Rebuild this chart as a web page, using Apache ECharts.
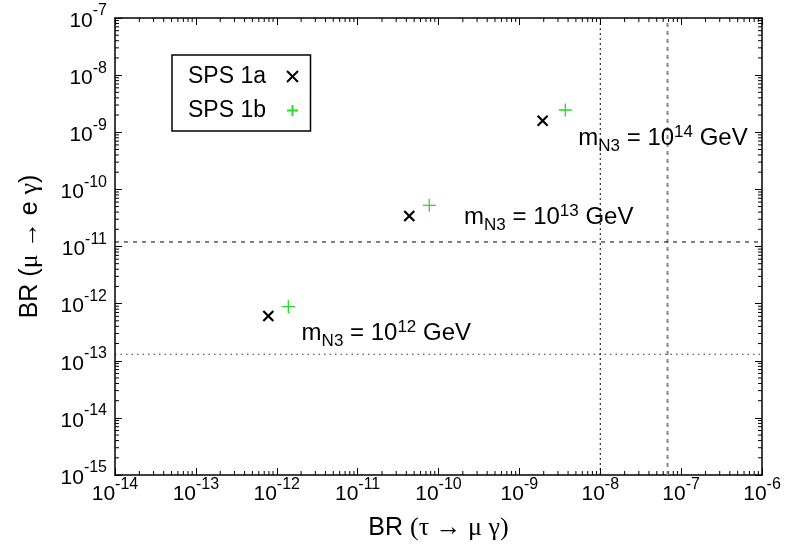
<!DOCTYPE html>
<html><head><meta charset="utf-8">
<script src="https://cdn.jsdelivr.net/npm/echarts@6/dist/echarts.min.js"></script>
<style>html,body{margin:0;padding:0;background:#fff}#c{width:787px;height:547px}</style>
</head><body><div id="c"></div>
<script>
// ---- data ----
const seriesNames = ['SPS 1a', 'SPS 1b'];
const spsA_x = [7.87e-13, 4.35e-11, 1.94e-9];
const spsA_y = [6.07e-13, 3.42e-11, 1.59e-9];
const spsB_x = [1.39e-12, 7.69e-11, 3.70e-9];
const spsB_y = [8.83e-13, 5.26e-11, 2.45e-9];
const massExponents = ['12', '13', '14'];
const annotX = [2.03e-12, 2.07e-10, 5.36e-9];
const annotY = [3.02e-13, 3.24e-11, 7.68e-10];
const xLimitLines = [1e-8, 6.8e-8];
const yLimitLines = [1.2e-11, 1.3e-13];
const xRange = [1e-14, 1e-6];
const yRange = [1e-15, 1e-7];
const xTitle = '{a|BR }{b|(τ → μ γ)}';
const yTitle = '{a|BR (}{b|μ → }{a|e }{b|γ}{a|)}';

// minor tick values (2..9 x 10^n)
const xMinorTicks = [];
for (let e = -14; e < -6; e++) for (let k = 2; k <= 9; k++) xMinorTicks.push(k * Math.pow(10, e));
const yMinorTicks = [];
for (let e = -15; e < -7; e++) for (let k = 2; k <= 9; k++) yMinorTicks.push(k * Math.pow(10, e));

const SANS = 'Liberation Sans';
const SERIF = 'Liberation Serif';

function tickFmt(v) {
  const e = Math.round(Math.log10(v));
  return '{b|10}{s|' + e + '}';
}
const tickRich = {
  b: { fontFamily: SANS, fontSize: 21, lineHeight: 23, padding: [8, 0, 2, 0], color: '#000' },
  s: { fontFamily: SANS, fontSize: 16, lineHeight: 17, padding: [1, 0, 15, 0], color: '#000' }
};
const nameRich = {
  a: { fontFamily: SANS, fontSize: 25, color: '#000' },
  b: { fontFamily: SERIF, fontSize: 26, color: '#000' }
};

const chart = echarts.init(document.getElementById('c'), null, { renderer: 'canvas' });

const axisLine = { show: true, lineStyle: { color: '#000', width: 1.5 } };
const majorTick = { show: true, inside: true, length: 7, lineStyle: { color: '#000', width: 1 } };

// reference-line styles, one per limit line
const xLineStyles = [
  { stroke: '#000', lineWidth: 1, lineDash: [2, 3] },
  { stroke: '#888', lineWidth: 2, lineDash: [4, 4] }
];
const yLineStyles = [
  { stroke: '#000', lineWidth: 1, lineDash: [4, 5] },
  { stroke: '#333', lineWidth: 1, lineDash: [1.5, 4] }
];

const option = {
  animation: false,
  backgroundColor: '#fff',
  grid: { left: 115, right: 25, top: 18, bottom: 72 },
  legend: {
    orient: 'vertical', left: 172, top: 55, align: 'right',
    padding: [10, 10, 9, 16], itemGap: 11, itemWidth: 11, itemHeight: 11,
    borderColor: '#000', borderWidth: 1.5, borderRadius: 0,
    textStyle: { fontFamily: SANS, fontSize: 23, color: '#000', lineHeight: 22, padding: [0, 16, 0, 0] },
    data: seriesNames,
    selectedMode: false
  },
  xAxis: [
    {
      type: 'log', min: xRange[0], max: xRange[1], position: 'bottom',
      name: xTitle, nameLocation: 'middle', nameGap: 40,
      nameTextStyle: { rich: nameRich },
      axisLine: axisLine, axisTick: majorTick, splitLine: { show: false },
      axisLabel: { formatter: tickFmt, rich: tickRich, margin: 5, showMinLabel: true, showMaxLabel: true }
    },
    {
      type: 'log', min: xRange[0], max: xRange[1], position: 'top',
      axisLine: axisLine, axisTick: majorTick, splitLine: { show: false },
      axisLabel: { show: false }
    }
  ],
  yAxis: [
    {
      type: 'log', min: yRange[0], max: yRange[1], position: 'left',
      name: yTitle, nameLocation: 'middle', nameGap: 72,
      nameTextStyle: { rich: nameRich },
      axisLine: axisLine, axisTick: majorTick, splitLine: { show: false },
      axisLabel: { formatter: tickFmt, rich: tickRich, margin: 8, showMinLabel: true, showMaxLabel: true }
    },
    {
      type: 'log', min: yRange[0], max: yRange[1], position: 'right',
      axisLine: axisLine, axisTick: majorTick, splitLine: { show: false },
      axisLabel: { show: false }
    }
  ],
  series: [
    {
      name: 'minorX', type: 'custom', xAxisIndex: 0, yAxisIndex: 0, silent: true, clip: false,
      data: xMinorTicks.map(v => [v, yRange[0]]),
      renderItem: function (params, api) {
        const v = api.value(0);
        const pb = api.coord([v, yRange[0]]);
        const pt = api.coord([v, yRange[1]]);
        return { type: 'group', children: [
          { type: 'line', shape: { x1: pb[0], y1: pb[1], x2: pb[0], y2: pb[1] - 4 }, style: { stroke: '#000', lineWidth: 1 } },
          { type: 'line', shape: { x1: pt[0], y1: pt[1], x2: pt[0], y2: pt[1] + 4 }, style: { stroke: '#000', lineWidth: 1 } }
        ] };
      }
    },
    {
      name: 'minorY', type: 'custom', xAxisIndex: 0, yAxisIndex: 0, silent: true, clip: false,
      data: yMinorTicks.map(v => [xRange[0], v]),
      renderItem: function (params, api) {
        const v = api.value(1);
        const pl = api.coord([xRange[0], v]);
        const pr = api.coord([xRange[1], v]);
        return { type: 'group', children: [
          { type: 'line', shape: { x1: pl[0], y1: pl[1], x2: pl[0] + 4, y2: pl[1] }, style: { stroke: '#000', lineWidth: 1 } },
          { type: 'line', shape: { x1: pr[0], y1: pr[1], x2: pr[0] - 4, y2: pr[1] }, style: { stroke: '#000', lineWidth: 1 } }
        ] };
      }
    },
    {
      name: 'xLimits', type: 'custom', xAxisIndex: 0, yAxisIndex: 0, silent: true, clip: false,
      data: xLimitLines.map(v => [v, yRange[0]]),
      renderItem: function (params, api) {
        const v = api.value(0);
        const p0 = api.coord([v, yRange[0]]);
        const p1 = api.coord([v, yRange[1]]);
        return { type: 'line', shape: { x1: p0[0], y1: p0[1], x2: p1[0], y2: p1[1] }, style: xLineStyles[params.dataIndex] };
      }
    },
    {
      name: 'yLimits', type: 'custom', xAxisIndex: 0, yAxisIndex: 0, silent: true, clip: false,
      data: yLimitLines.map(v => [xRange[0], v]),
      renderItem: function (params, api) {
        const v = api.value(1);
        const p0 = api.coord([xRange[0], v]);
        const p1 = api.coord([xRange[1], v]);
        return { type: 'line', shape: { x1: p0[0], y1: p0[1], x2: p1[0], y2: p1[1] }, style: yLineStyles[params.dataIndex] };
      }
    },
    {
      name: 'annot', type: 'scatter', symbolSize: 0, silent: true,
      itemStyle: { opacity: 1 },
      data: annotX.map((x, i) => [x, annotY[i]]),
      label: {
        show: true, position: 'right', distance: 0,
        formatter: function (p) {
          return '{m|m}{sub|N3}{m| = 10}{sup|' + massExponents[p.dataIndex] + '}{m| GeV}';
        },
        rich: {
          m: { fontFamily: SANS, fontSize: 24, lineHeight: 26, padding: [8, 0, 8, 0], color: '#000' },
          sub: { fontFamily: SANS, fontSize: 17, lineHeight: 18, padding: [20, 0, 4, 0], color: '#000' },
          sup: { fontFamily: SANS, fontSize: 17, lineHeight: 18, padding: [6, 0, 18, 0], color: '#000' }
        }
      }
    },
    {
      name: seriesNames[0], type: 'scatter',
      symbol: 'path://M0 0L10 10M10 0L0 10', symbolSize: 10,
      itemStyle: { color: 'none', borderColor: '#000', borderWidth: 2.2, opacity: 1 },
      data: spsA_x.map((x, i) => [x, spsA_y[i]])
    },
    {
      name: seriesNames[1], type: 'scatter',
      symbol: 'path://M5 0L5 10M0 5L10 5', symbolSize: 13,
      itemStyle: { color: 'none', borderColor: '#22dd22', borderWidth: 1.3, opacity: 1 },
      data: spsB_x.map((x, i) => [x, spsB_y[i]])
    }
  ]
};
chart.setOption(option);
</script>
</body></html>
